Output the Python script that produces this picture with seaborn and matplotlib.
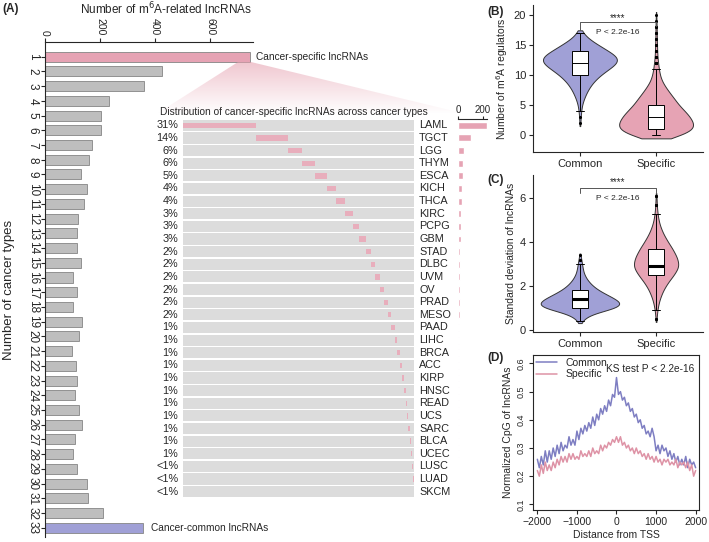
import numpy as np
import pandas as pd
import matplotlib.pyplot as plt
import seaborn as sns
from matplotlib.patches import Polygon
from matplotlib.transforms import blended_transform_factory

# ---- panel A: lncRNAs by number of cancer types
n_types = [str(i) for i in range(1, 34)]
n_lnc = [745, 424, 359, 233, 204, 202, 171, 161, 131, 153, 142, 120, 116, 116, 131,
         102, 117, 102, 133, 122, 98, 114, 117, 108, 124, 133, 110, 103, 116, 151,
         155, 212, 356]

cancers = ['LAML', 'TGCT', 'LGG', 'THYM', 'ESCA', 'KICH', 'THCA', 'KIRC', 'PCPG', 'GBM',
           'STAD', 'DLBC', 'UVM', 'OV', 'PRAD', 'MESO', 'PAAD', 'LIHC', 'BRCA', 'ACC',
           'KIRP', 'HNSC', 'READ', 'UCS', 'SARC', 'BLCA', 'UCEC', 'LUSC', 'LUAD', 'SKCM']
pct_labels = ['31%', '14%', '6%', '6%', '5%', '4%', '4%', '3%', '3%', '3%', '2%', '2%',
              '2%', '2%', '2%', '2%', '1%', '1%', '1%', '1%', '1%', '1%', '1%', '1%',
              '1%', '1%', '1%', '<1%', '<1%', '<1%']
spec_counts = [231, 104, 45, 42, 37, 30, 28, 24, 21, 20, 16, 15, 14, 13, 12, 12, 10, 9,
               8, 7, 6, 5, 5, 4, 4, 4, 4, 3, 2, 1]

# ---- panel B: m6A regulators (value levels and how many lncRNAs at each)
b_common_vals = list(range(2, 18))
b_common_n = [1, 1, 2, 3, 6, 10, 15, 22, 32, 45, 60, 62, 45, 30, 14, 5]
b_spec_vals = list(range(0, 21))
b_spec_n = [80, 115, 110, 100, 85, 65, 55, 40, 28, 16, 11, 8, 6, 4, 3, 3, 2, 2, 2, 1, 1]

# ---- panel C: standard deviation of lncRNAs
c_common_vals = [0.4, 0.6, 0.8, 1.0, 1.2, 1.4, 1.6, 1.8, 2.0, 2.2, 2.4, 2.6, 2.8, 3.0, 3.2, 3.4]
c_common_n = [3, 8, 22, 52, 60, 50, 38, 26, 18, 12, 8, 5, 4, 3, 2, 1]
c_spec_vals = [0.5, 0.9, 1.3, 1.7, 2.1, 2.5, 2.9, 3.3, 3.7, 4.1, 4.5, 4.9, 5.3, 5.7, 6.1]
c_spec_n = [2, 5, 12, 25, 45, 75, 100, 90, 70, 45, 25, 12, 6, 3, 2]

# ---- panel D: CpG profile around TSS
tss = np.arange(-2000, 2001, 50)
cpg_common = [0.26, 0.23, 0.27, 0.24, 0.29, 0.25, 0.29, 0.26, 0.30, 0.27,
              0.31, 0.28, 0.32, 0.29, 0.31, 0.30, 0.34, 0.31, 0.33, 0.31,
              0.36, 0.33, 0.37, 0.35, 0.38, 0.36, 0.39, 0.37, 0.41, 0.38,
              0.42, 0.40, 0.44, 0.42, 0.45, 0.43, 0.47, 0.45, 0.49, 0.48,
              0.55,
              0.49, 0.50, 0.47, 0.48, 0.45, 0.46, 0.43, 0.44, 0.41, 0.42,
              0.39, 0.40, 0.37, 0.38, 0.35, 0.36, 0.34, 0.37, 0.34, 0.29,
              0.31, 0.28, 0.31, 0.29, 0.30, 0.27, 0.29, 0.26, 0.28, 0.25,
              0.27, 0.24, 0.26, 0.24, 0.27, 0.23, 0.26, 0.24, 0.25, 0.23]
cpg_spec = [0.22, 0.20, 0.24, 0.21, 0.25, 0.22, 0.24, 0.22, 0.25, 0.23,
            0.26, 0.24, 0.27, 0.25, 0.27, 0.25, 0.28, 0.26, 0.28, 0.26,
            0.27, 0.26, 0.29, 0.27, 0.28, 0.27, 0.29, 0.27, 0.30, 0.28,
            0.29, 0.28, 0.31, 0.29, 0.31, 0.30, 0.32, 0.31, 0.33, 0.32,
            0.34,
            0.32, 0.34, 0.31, 0.32, 0.30, 0.31, 0.29, 0.30, 0.28, 0.30,
            0.28, 0.29, 0.27, 0.28, 0.26, 0.28, 0.26, 0.27, 0.25, 0.27,
            0.25, 0.26, 0.24, 0.26, 0.25, 0.26, 0.24, 0.25, 0.24, 0.26,
            0.23, 0.25, 0.24, 0.25, 0.23, 0.25, 0.22, 0.24, 0.20, 0.22]

pink = '#E6A3B4'
purple = '#A0A0D6'
gray = '#BEBEBE'
groups = ['Common', 'Specific']

sns.set_theme(style='ticks')
plt.rcParams['font.family'] = ['Liberation Sans', 'DejaVu Sans']
plt.rcParams['axes.linewidth'] = 0.8
plt.rcParams['xtick.major.width'] = 0.8
plt.rcParams['ytick.major.width'] = 0.8

W, H = 709, 542
fig = plt.figure(figsize=(7.09, 5.42), dpi=100)


def fax(x0, y0, x1, y1):
    # axes from pixel box (top-left origin)
    return fig.add_axes([x0 / W, 1 - y1 / H, (x1 - x0) / W, (y1 - y0) / H])


# ================= panel A main bars
ax = fax(45, 42, 253, 537)
dfa = pd.DataFrame({'types': n_types, 'n': n_lnc})
cols = [pink] + [gray] * 31 + [purple]
sns.barplot(data=dfa, x='n', y='types', hue='types', palette=cols, legend=False,
            orient='h', width=0.68, edgecolor='#858585', linewidth=0.6, saturation=1, ax=ax)
ax.set_xlim(0, 755)
ax.set_ylim(32.63, -1.0)
ax.xaxis.tick_top()
ax.set_xticks([0, 200, 400, 600])
ax.set_xticklabels(['0', '200', '400', '600'], rotation=-90, fontsize=7.5)
ax.set_yticks(range(33))
ax.set_yticklabels(n_types, rotation=-90, fontsize=8.5, va='center')
ax.tick_params(axis='both', length=3, pad=1.5)
ax.set_xlabel('')
ax.set_ylabel('')
for s in ['right', 'bottom']:
    ax.spines[s].set_visible(False)
ax.spines['top'].set_visible(True)
ax.set_facecolor('none')
ax.text(765, 0, 'Cancer-specific lncRNAs', va='center', fontsize=7.3, clip_on=False)
ax.text(385, 32, 'Cancer-common lncRNAs', va='center', fontsize=7.3, clip_on=False)
fig.text(166 / W, 1 - 9 / H, 'Number of m$^6$A-related lncRNAs', ha='center', va='center',
         fontsize=8.5)
fig.text(9 / W, 1 - 290 / H, 'Number of cancer types', rotation=90, ha='center',
         va='center', fontsize=9.5)

# ================= panel A inset (distribution across cancer types)
axi = fax(183, 119, 414, 498)
rows = np.arange(len(cancers))
fracs = np.array(spec_counts) / sum(spec_counts)
starts = np.concatenate([[0], np.cumsum(fracs)[:-1]])
axi.barh(rows, 1, height=0.88, color='#DCDCDC', linewidth=0)
axi.barh(rows, fracs, left=starts, height=0.42, color='#E8AEBC', linewidth=0)
axi.set_xlim(0, 1)
axi.set_ylim(29.5, -0.5)
axi.axis('off')
tr = blended_transform_factory(axi.transAxes, axi.transData)
for i in rows:
    axi.text(-0.02, i, pct_labels[i], ha='right', va='center', fontsize=7.8, transform=tr)
    axi.text(1.022, i, cancers[i], ha='left', va='center', fontsize=7.8, transform=tr)
fig.text(160 / W, 1 - 112 / H, 'Distribution of cancer-specific lncRNAs across cancer types',
         va='center', fontsize=7.3)

axr = fax(458, 119, 487, 498)
dfr = pd.DataFrame({'cancer': cancers, 'n': spec_counts})
sns.barplot(data=dfr, x='n', y='cancer', color=pink, orient='h', width=0.55,
            saturation=1, ax=axr)
axr.set_xlim(0, 232)
axr.set_ylim(29.5, -0.5)
axr.xaxis.tick_top()
axr.set_xticks([0, 200])
axr.tick_params(axis='x', labelsize=7, length=2, pad=1)
axr.set_yticks([])
axr.set_xlabel('')
axr.set_ylabel('')
for s in ['right', 'bottom', 'left']:
    axr.spines[s].set_visible(False)
axr.spines['top'].set_visible(True)


# ================= violin helper
def violin_panel(axv, cv, cn, sv, sn, widths, cut, med_lw):
    df = pd.DataFrame({'group': ['Common'] * sum(cn) + ['Specific'] * sum(sn),
                       'value': np.concatenate([np.repeat(cv, cn), np.repeat(sv, sn)])})
    for g, c, w in zip(groups, [purple, pink], widths):
        sns.violinplot(data=df[df['group'] == g], x='group', y='value', order=groups,
                       color=c, inner=None, density_norm='width', cut=cut, width=w,
                       linewidth=0.7, linecolor='#333333', saturation=1, ax=axv)
    sns.boxplot(data=df, x='group', y='value', order=groups, width=0.2, color='white',
                linecolor='black', linewidth=0.7, fliersize=1.2, saturation=1,
                medianprops=dict(linewidth=med_lw),
                flierprops=dict(marker='o', markerfacecolor='black',
                                markeredgecolor='black'), ax=axv)
    axv.set_xlim(-0.616, 1.616)
    axv.set_xlabel('')
    axv.tick_params(labelsize=8, length=3, pad=2)
    sns.despine(ax=axv)


# ================= panel B
axb = fax(533, 5, 703, 152)
violin_panel(axb, b_common_vals, b_common_n, b_spec_vals, b_spec_n, [0.97, 0.97], 0.6, 0.7)
axb.set_ylim(-2.8, 21.7)
axb.set_yticks([0, 5, 10, 15, 20])
axb.set_ylabel('Number of m$^6$A regulators', fontsize=7.5, labelpad=3)
axb.plot([0, 0, 1, 1], [17.6, 18.8, 18.8, 18.2], color='#555555', lw=0.7)
axb.text(0.5, 19.6, '****', ha='center', va='center', fontsize=7)
axb.text(0.5, 17.2, 'P < 2.2e-16', ha='center', va='center', fontsize=6)

# ================= panel C
axc = fax(533, 175, 703, 332)
violin_panel(axc, c_common_vals, c_common_n, c_spec_vals, c_spec_n, [1.03, 0.58], 0.5, 2.2)
axc.set_ylim(-0.09, 7.06)
axc.set_yticks([0, 2, 4, 6])
axc.set_ylabel('Standard deviation of lncRNAs', fontsize=7.5, labelpad=3)
axc.plot([0, 0, 1, 1], [6.25, 6.45, 6.45, 6.25], color='#555555', lw=0.7)
axc.text(0.5, 6.75, '****', ha='center', va='center', fontsize=7)
axc.text(0.5, 6.0, 'P < 2.2e-16', ha='center', va='center', fontsize=6)

# ================= panel D
axd = fax(533, 355, 699, 510)
dfd = pd.DataFrame({'tss': np.concatenate([tss, tss]),
                    'cpg': cpg_common + cpg_spec,
                    'group': ['Common'] * len(tss) + ['Specific'] * len(tss)})
sns.lineplot(data=dfd, x='tss', y='cpg', hue='group', palette=['#7E7EC2', '#DE93A6'],
             linewidth=1.1, ax=axd)
axd.set_xlim(-2110, 2085)
axd.set_ylim(0.08, 0.63)
axd.set_xticks([-2000, -1000, 0, 1000, 2000])
axd.set_yticks([0.1, 0.2, 0.3, 0.4, 0.5, 0.6])
axd.set_yticklabels(['0.1', '0.2', '0.3', '0.4', '0.5', '0.6'], rotation=90, va='center')
axd.tick_params(axis='x', labelsize=7.5, length=3, pad=2)
axd.tick_params(axis='y', labelsize=6.5, length=3, pad=2)
axd.set_xlabel('Distance from TSS', fontsize=7.5, labelpad=2)
axd.set_ylabel('Normalized CpG of lncRNAs', fontsize=7.5, labelpad=3)
axd.legend(loc='upper left', frameon=False, fontsize=7.5, handlelength=2,
           borderaxespad=0.1, labelspacing=0.1, borderpad=0.2)
axd.text(0.97, 0.94, 'KS test P < 2.2e-16', transform=axd.transAxes, ha='right',
         va='top', fontsize=7.3)

# panel letters
for lab, x, y in [('(A)', 2, 9), ('(B)', 487, 12), ('(C)', 487, 180), ('(D)', 487, 358)]:
    fig.text(x / W, 1 - y / H, lab, fontsize=8.5, fontweight='bold', va='center')

# ================= zoom shading from bar 1 down to the inset
ov = fig.add_axes([0, 0, 1, 1], zorder=10)
ov.set_xlim(0, W)
ov.set_ylim(H, 0)
ov.axis('off')
grad = np.zeros((60, 2, 4))
grad[..., 0] = 0.90
grad[..., 1] = 0.62
grad[..., 2] = 0.68
grad[..., 3] = np.linspace(0.6, 0.0, 60)[:, None]
im = ov.imshow(grad, extent=(150, 470, 114, 60), aspect='auto', interpolation='bilinear')
poly = Polygon([(238, 62), (251, 62), (462, 113), (158, 113)], closed=True,
               transform=ov.transData, facecolor='none', edgecolor='none')
ov.add_patch(poly)
im.set_clip_path(poly)

fig.savefig('out.png', dpi=100)
